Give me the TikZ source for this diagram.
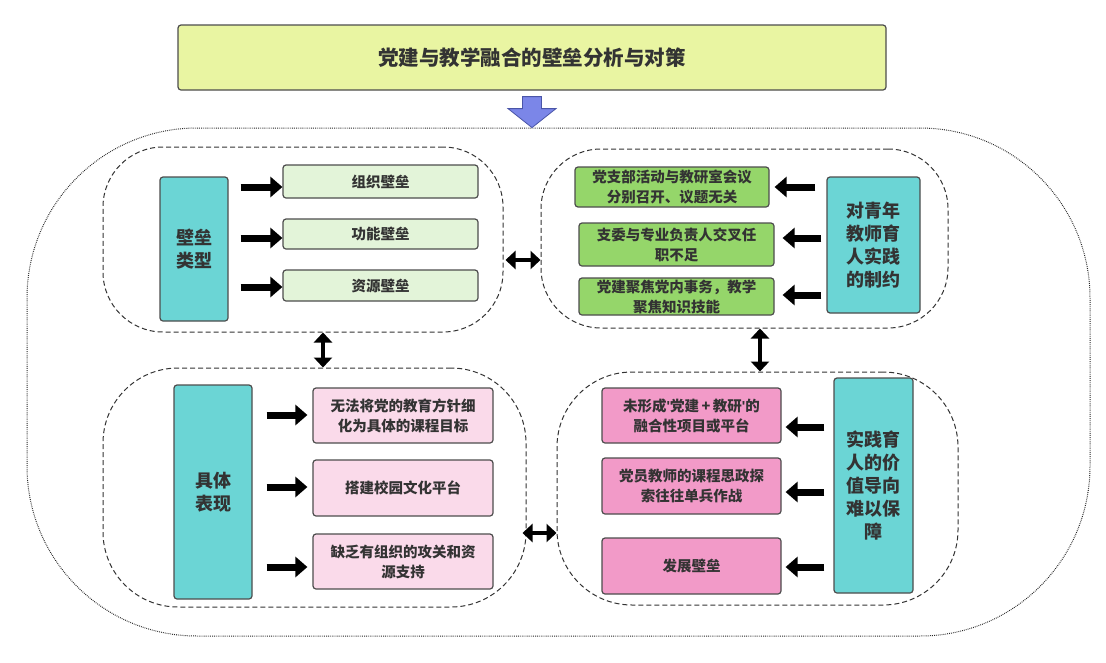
\documentclass[tikz,border=0pt]{standalone}
\usepackage{fontspec}
\setmainfont{Noto Sans CJK SC}
\newfontfamily\latinq{Liberation Sans}
\usetikzlibrary{arrows.meta,calc}
\definecolor{txt}{HTML}{333333}
\definecolor{bord}{HTML}{4D4D4D}
\definecolor{titlefill}{HTML}{E9F5A2}
\definecolor{lgreen}{HTML}{E3F4D9}
\definecolor{mgreen}{HTML}{95D66A}
\definecolor{teal}{HTML}{6BD5D5}
\definecolor{lpink}{HTML}{FADAEA}
\definecolor{mpink}{HTML}{F29AC8}
\definecolor{blue}{HTML}{7B86E8}
\definecolor{blueb}{HTML}{4A55A8}
\tikzset{
  box/.style={draw=bord, line width=1.2pt, rounded corners=3pt, inner sep=0pt, align=center,
    text=txt, font=\fontsize{14.5}{20}\selectfont\bfseries},
  tealbox/.style={box, fill=teal, font=\fontsize{18}{23}\selectfont\bfseries},
  grp/.style={draw=black!80, line width=1pt, dash pattern=on 5pt off 3pt, rounded corners=60pt, inner sep=0pt},
  outerbox/.style={draw=black!85, line width=1pt, dash pattern=on 0.8pt off 1.1pt, rounded corners=170pt, inner sep=0pt},
  blk/.style={line width=7pt, -{Triangle[length=12pt,width=20pt]}},
  dbl/.style={line width=4.5pt, {Triangle[length=10pt,width=18pt]}-{Triangle[length=10pt,width=18pt]}},
}
\begin{document}
\begin{tikzpicture}[x=1pt,y=-1pt]
\useasboundingbox (0,0) rectangle (1106,662);
\fill[white] (0,0) rectangle (1106,662);
% outer dotted
\node[outerbox, minimum width=1063pt, minimum height=508pt] (outer) at (558.5,382) {};
% title
\node[box, fill=titlefill, minimum width=708pt, minimum height=65pt, font=\fontsize{20.5}{24}\selectfont\bfseries] (title) at (532,57.5) {党建与教学融合的壁垒分析与对策};
% blue arrow
\draw[fill=blue, draw=blueb, line width=0.8pt]
  ($(title.south)+(0,6)$) ++(-9.5,0) -- ++(19,0) -- ++(0,12) -- ++(14.5,0) -- ++(-24,19) -- ++(-24,-19) -- ++(14.5,0) -- cycle;
% groups
\node[grp, minimum width=400pt, minimum height=185pt] (g1) at (303,239.5) {};
\node[grp, minimum width=407pt, minimum height=179pt] (g2) at (744.5,238.5) {};
\node[grp, rounded corners=75pt, minimum width=423pt, minimum height=239pt] (g3) at (314.5,487.5) {};
\node[grp, rounded corners=75pt, minimum width=401pt, minimum height=233pt] (g4) at (757.5,488.5) {};
% top-left
\node[tealbox, minimum width=68pt, minimum height=144pt] (t1) at (194,249) {壁垒\\类型};
\node[box, fill=lgreen, minimum width=195pt, minimum height=33pt] (a1) at (380.5,181.5) {组织壁垒};
\node[box, fill=lgreen, minimum width=195pt, minimum height=30pt] (a2) at (380.5,234) {功能壁垒};
\node[box, fill=lgreen, minimum width=195pt, minimum height=31pt] (a3) at (380.5,285.5) {资源壁垒};
\draw[blk] (t1.east |- 0,187) ++(12,0) -- (a1.west |- 0,187);
\draw[blk] (t1.east |- 0,238) ++(12,0) -- (a2.west |- 0,238);
\draw[blk] (t1.east |- 0,287) ++(12,0) -- (a3.west |- 0,287);
% top-right
\node[tealbox, minimum width=93pt, minimum height=136pt] (t2) at (873.5,245) {对青年\\教师育\\人实践\\的制约};
\node[box, fill=mgreen, minimum width=194pt, minimum height=40pt] (b1) at (672,187) {党支部活动与教研室会议\\分别召开、议题无关};
\node[box, fill=mgreen, minimum width=195pt, minimum height=43pt] (b2) at (676.5,244.5) {支委与专业负责人交叉任\\职不足};
\node[box, fill=mgreen, minimum width=195pt, minimum height=37pt] (b3) at (676.5,296.5) {党建聚焦党内事务，教学\\聚焦知识技能};
\draw[blk] (t2.west |- 0,187) ++(-11,0) -- ($(b1.east |- 0,187)+(5,0)$);
\draw[blk] (t2.west |- 0,238) ++(-5,0) -- ($(b2.east |- 0,238)+(8,0)$);
\draw[blk] (t2.west |- 0,295) ++(-5,0) -- ($(b3.east |- 0,295)+(8,0)$);
% bottom-left
\node[tealbox, minimum width=78pt, minimum height=214pt] (t3) at (213,492) {具体\\表现};
\node[box, fill=lpink, minimum width=180pt, minimum height=55pt] (c1) at (403,415.5) {无法将党的教育方针细\\化为具体的课程目标};
\node[box, fill=lpink, minimum width=180pt, minimum height=56pt] (c2) at (403,488) {搭建校园文化平台};
\node[box, fill=lpink, minimum width=180pt, minimum height=55pt] (c3) at (403,561.5) {缺乏有组织的攻关和资\\源支持};
\draw[blk] (t3.east |- 0,415) ++(14,0) -- ($(c1.west |- 0,415)+(-5,0)$);
\draw[blk] (t3.east |- 0,487) ++(14,0) -- ($(c2.west |- 0,487)+(-5,0)$);
\draw[blk] (t3.east |- 0,567) ++(14,0) -- ($(c3.west |- 0,567)+(-5,0)$);
% bottom-right
\node[tealbox, minimum width=79pt, minimum height=215pt] (t4) at (873.5,485.5) {实践育\\人的价\\值导向\\难以保\\障};
\node[box, fill=mpink, minimum width=179pt, minimum height=55pt] (d1) at (691.5,415.5) {未形成{\latinq\bfseries '}党建\,+\,教研{\latinq\bfseries '}的\\融合性项目或平台};
\node[box, fill=mpink, minimum width=179pt, minimum height=56pt] (d2) at (691.5,486) {党员教师的课程思政探\\索往往单兵作战};
\node[box, fill=mpink, minimum width=179pt, minimum height=56pt] (d3) at (691.5,566) {发展壁垒};
\draw[blk] (t4.west |- 0,427) ++(-9,0) -- ($(d1.east |- 0,427)+(4,0)$);
\draw[blk] (t4.west |- 0,492) ++(-9,0) -- ($(d2.east |- 0,492)+(4,0)$);
\draw[blk] (t4.west |- 0,567) ++(-9,0) -- ($(d3.east |- 0,567)+(4,0)$);
% double arrows between groups
\draw[dbl] ($(g1.east |- 0,260)+(2,0)$) -- (g2.west |- 0,260);
\draw[dbl] (g1.south -| 323,0) -- (g3.north -| 323,0);
\draw[dbl] (g2.south -| 760,0) -- (g4.north -| 760,0);
\draw[dbl] ($(g3.east |- 0,533)+(-4,0)$) -- (g4.west |- 0,533);
\end{tikzpicture}
\end{document}
